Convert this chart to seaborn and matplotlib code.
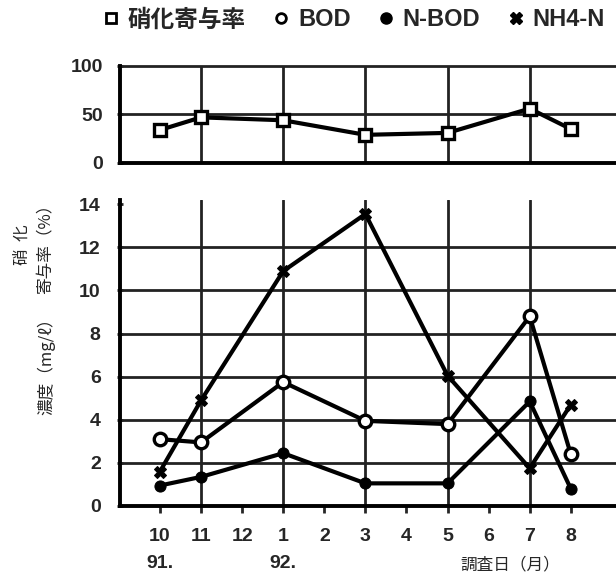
import numpy as np
import pandas as pd
import seaborn as sns
import matplotlib.pyplot as plt
from matplotlib.lines import Line2D

# months on the x axis (Oct 1991 .. Aug 1992)
month_labels = ["10", "11", "12", "1", "2", "3", "4", "5", "6", "7", "8"]
sample_idx = [0, 1, 3, 5, 7, 9, 10]  # survey months: 10, 11, 1, 3, 5, 7, 8

nitrif_ratio = [34, 47, 44, 29, 31, 56, 35]
bod = [3.1, 2.95, 5.75, 3.95, 3.8, 8.8, 2.4]
n_bod = [0.95, 1.35, 2.45, 1.05, 1.05, 4.85, 0.8]
nh4_n = [1.6, 4.9, 10.9, 13.55, 6.05, 1.75, 4.7]

sns.set_theme(style="white")
plt.rcParams["font.family"] = ["Liberation Sans", "Noto Sans CJK JP", "DejaVu Sans"]
cjk = ["Noto Sans CJK JP", "DejaVu Sans"]

fig = plt.figure(figsize=(6.16, 5.78), dpi=100)
ax_top = fig.add_axes([0.195, 0.718, 0.805, 0.168])
ax_bot = fig.add_axes([0.195, 0.1246, 0.805, 0.5294])

df = pd.DataFrame({
    "x": sample_idx, "ratio": nitrif_ratio,
    "bod": bod, "nbod": n_bod, "nh4": nh4_n,
})

line_kw = dict(color="black", linewidth=3.0)
sns.lineplot(data=df, x="x", y="ratio", ax=ax_top, marker="s", markersize=8,
             markerfacecolor="white", markeredgecolor="black", markeredgewidth=2.4, **line_kw)
sns.lineplot(data=df, x="x", y="nh4", ax=ax_bot, marker="X", markersize=9,
             markerfacecolor="black", markeredgecolor="black", **line_kw)
sns.lineplot(data=df, x="x", y="bod", ax=ax_bot, marker="o", markersize=9,
             markerfacecolor="white", markeredgecolor="black", markeredgewidth=2.4, **line_kw)
sns.lineplot(data=df, x="x", y="nbod", ax=ax_bot, marker="o", markersize=8,
             markerfacecolor="black", markeredgecolor="black", **line_kw)

xlim = (-0.97, 11.1)
grid_x = [1, 3, 5, 7, 9]
for ax in (ax_top, ax_bot):
    ax.set_xlim(*xlim)
    ax.set_xlabel("")
    ax.set_ylabel("")
    for side in ("top", "right"):
        ax.spines[side].set_visible(False)
    for side in ("left", "bottom"):
        ax.spines[side].set_linewidth(2.8)
        ax.spines[side].set_color("black")
    for gx in grid_x:
        ax.axvline(gx, color="#222222", linewidth=2.0, zorder=0)

ax_top.set_ylim(0, 100)
ax_top.set_yticks([0, 50, 100])
ax_top.axhline(50, color="#222222", linewidth=2.0, zorder=0)
ax_top.axhline(100, color="#222222", linewidth=2.0, zorder=0, clip_on=False)
ax_top.set_xticks([])
ax_top.tick_params(axis="y", left=True, length=4, width=2, direction="inout",
                   labelsize=14, pad=10)

ax_bot.set_ylim(0, 14.2)
ax_bot.set_yticks(range(0, 15, 2))
for gy in range(2, 14, 2):
    ax_bot.axhline(gy, color="#222222", linewidth=2.0, zorder=0)
ax_bot.set_xticks(range(len(month_labels)))
ax_bot.set_xticklabels(month_labels)
ax_bot.tick_params(axis="y", left=True, length=4, width=2, direction="inout",
                   labelsize=14, pad=12)
ax_bot.tick_params(axis="x", bottom=True, length=5, width=2, direction="out",
                   labelsize=14, pad=11)
for lab in ax_top.get_yticklabels() + ax_bot.get_yticklabels() + ax_bot.get_xticklabels():
    lab.set_fontweight("bold")

# year marks and x caption
fig.text(160 / 616, 1 - 563 / 578, "91.", fontsize=14, fontweight="bold", ha="center", va="center")
fig.text(283 / 616, 1 - 563 / 578, "92.", fontsize=14, fontweight="bold", ha="center", va="center")
fig.text(510 / 616, 1 - 565 / 578, "調査日（月）", fontsize=12, family=cjk, ha="center", va="center")

# y captions (vertical)
fig.text(22 / 616, 1 - 245 / 578, "硝  化", fontsize=12, family=cjk, rotation=90, ha="center", va="center")
fig.text(46 / 616, 1 - 245 / 578, "寄与率（%）", fontsize=12, family=cjk, rotation=90, ha="center", va="center")
fig.text(46 / 616, 1 - 362 / 578, "濃度（mg/ℓ）", fontsize=12, family=cjk, rotation=90, ha="center", va="center")

# legend along the top
handles = [
    Line2D([], [], linestyle="none", marker="s", markersize=7, markerfacecolor="white",
           markeredgecolor="black", markeredgewidth=2),
    Line2D([], [], linestyle="none", marker="o", markersize=7, markerfacecolor="white",
           markeredgecolor="black", markeredgewidth=2),
    Line2D([], [], linestyle="none", marker="o", markersize=8, color="black"),
    Line2D([], [], linestyle="none", marker="X", markersize=8, color="black"),
]
leg = fig.legend(handles, ["硝化寄与率", "BOD", "N-BOD", "NH4-N"], ncol=4,
                 loc="center", bbox_to_anchor=(352 / 616, 1 - 20 / 578), frameon=False,
                 handletextpad=0.2, columnspacing=1.0, handlelength=1.0,
                 prop=dict(family=["Liberation Sans", "Noto Sans CJK JP"], size=17, weight="bold"))

fig.savefig("out.png", dpi=100)
